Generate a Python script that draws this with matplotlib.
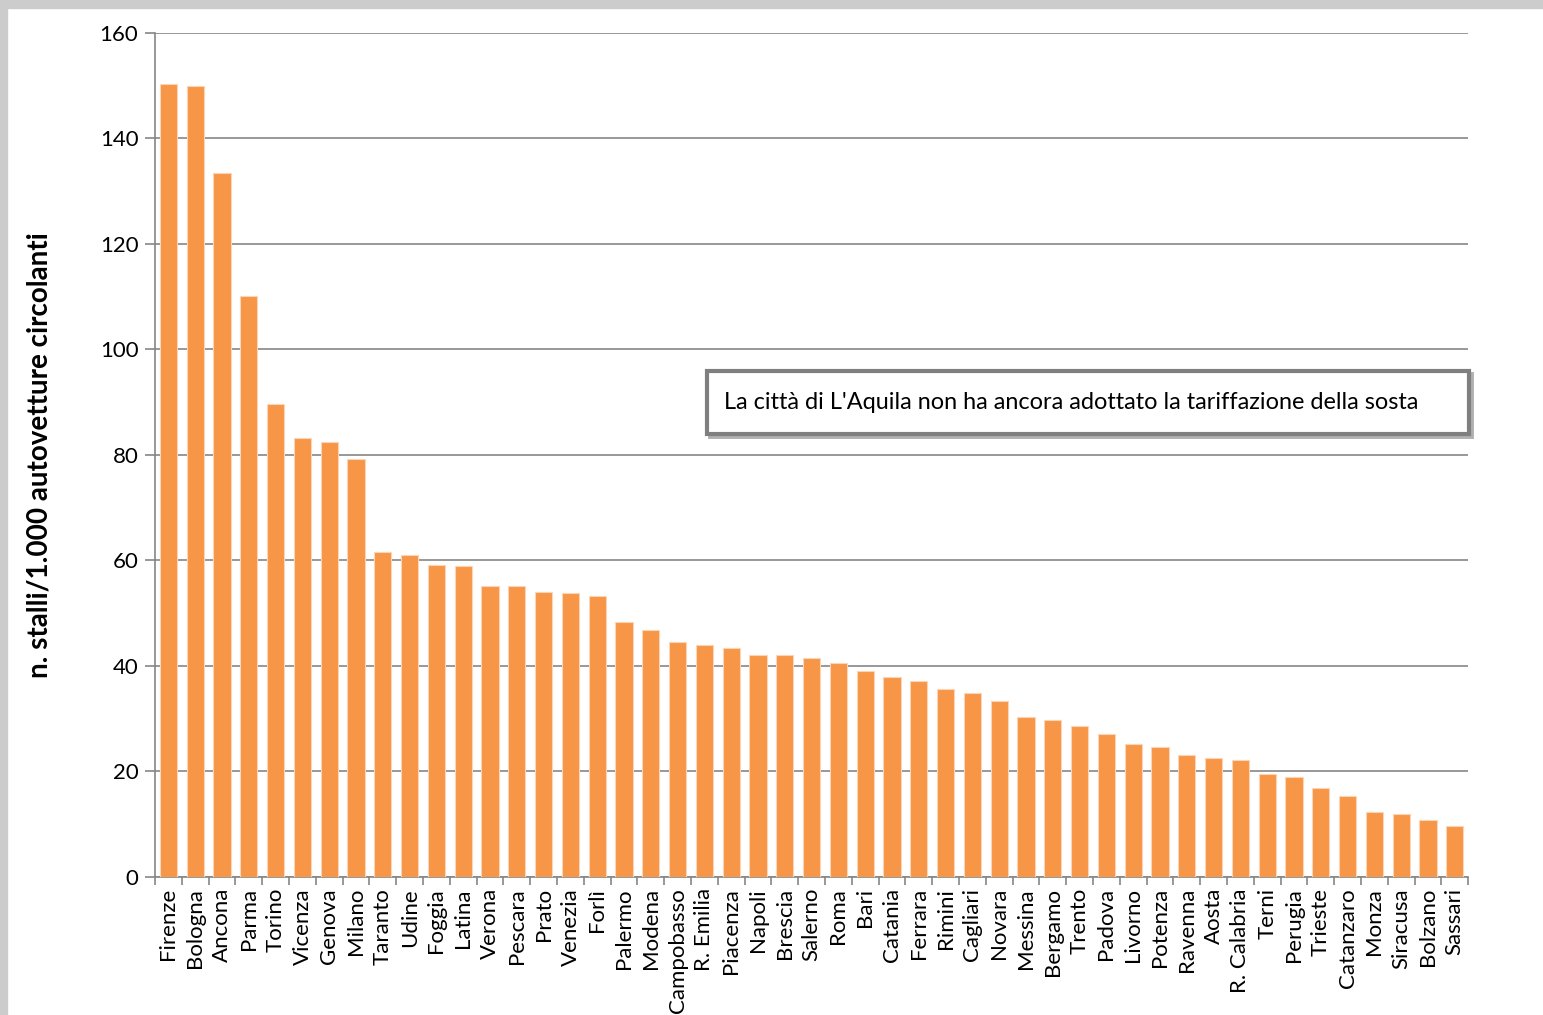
import numpy as np
import matplotlib.pyplot as plt
from matplotlib.patches import Rectangle

citta = ["Firenze", "Bologna", "Ancona", "Parma", "Torino", "Vicenza", "Genova", "Milano",
         "Taranto", "Udine", "Foggia", "Latina", "Verona", "Pescara", "Prato", "Venezia",
         "Forlì", "Palermo", "Modena", "Campobasso", "R. Emilia", "Piacenza", "Napoli",
         "Brescia", "Salerno", "Roma", "Bari", "Catania", "Ferrara", "Rimini", "Cagliari",
         "Novara", "Messina", "Bergamo", "Trento", "Padova", "Livorno", "Potenza", "Ravenna",
         "Aosta", "R. Calabria", "Terni", "Perugia", "Trieste", "Catanzaro", "Monza",
         "Siracusa", "Bolzano", "Sassari"]
stalli = [150.4, 149.9, 133.4, 110.2, 89.6, 83.3, 82.4, 79.3,
          61.6, 61.0, 59.2, 58.9, 55.1, 55.1, 54.1, 53.8,
          53.2, 48.4, 46.9, 44.5, 43.9, 43.5, 42.1,
          42.1, 41.5, 40.6, 39.1, 37.9, 37.2, 35.6, 34.9,
          33.4, 30.3, 29.8, 28.6, 27.1, 25.2, 24.6, 23.1,
          22.6, 22.2, 19.6, 18.9, 16.9, 15.4, 12.3,
          12.0, 10.8, 9.7]

plt.rcParams['font.family'] = ['Lato', 'DejaVu Sans']

fig = plt.figure(figsize=(15.43, 10.15), dpi=100)
# gray frame on top and left
fig.patches.append(Rectangle((0, 1 - 8/1015), 1, 8/1015, transform=fig.transFigure,
                             color='#cccccc', zorder=0))
fig.patches.append(Rectangle((0, 0), 7/1543, 1, transform=fig.transFigure,
                             color='#cccccc', zorder=0))

ax = fig.add_axes([0.1005, 0.136, 0.851, 0.8315])
x = np.arange(len(citta))
ax.bar(x, stalli, width=0.64, color='#F79646', edgecolor='#fbd5b5', linewidth=0.8, zorder=3)

ax.set_xlim(-0.5, len(citta) - 0.5)
ax.set_ylim(0, 160)
ax.set_yticks(np.arange(0, 161, 20))
ax.yaxis.grid(True, color='#868686', linewidth=1.2, zorder=0)
ax.set_axisbelow(True)

ax.set_xticks(x)
ax.set_xticklabels(citta, rotation=90, fontsize=16)
ax.set_xticks(np.arange(-0.5, len(citta), 1), minor=True)
ax.tick_params(axis='x', which='major', length=0, pad=8)
ax.tick_params(axis='x', which='minor', length=6, color='#868686', width=1.2)
ax.tick_params(axis='y', length=7, color='#868686', width=1.2, labelsize=16, pad=5)

for s in ['top', 'right']:
    ax.spines[s].set_visible(False)
for s in ['left', 'bottom']:
    ax.spines[s].set_color('#868686')
    ax.spines[s].set_linewidth(1.2)

ax.set_ylabel("n. stalli/1.000 autovetture circolanti", fontsize=20, fontweight='bold',
              labelpad=34)

# note box
ax.add_patch(Rectangle((0.4225, 0.522), 0.58, 0.074, transform=ax.transAxes,
                       facecolor='none', edgecolor='#b0b0b0', linewidth=3.5,
                       clip_on=False, zorder=4))
ax.add_patch(Rectangle((0.4205, 0.525), 0.58, 0.074, transform=ax.transAxes,
                       facecolor='white', edgecolor='#7f7f7f', linewidth=3,
                       clip_on=False, zorder=5))
ax.text(0.433, 0.562, "La città di L'Aquila non ha ancora adottato la tariffazione della sosta",
        transform=ax.transAxes, fontsize=16.9, va='center', ha='left', zorder=6)

fig.savefig("out.png", dpi=100)
